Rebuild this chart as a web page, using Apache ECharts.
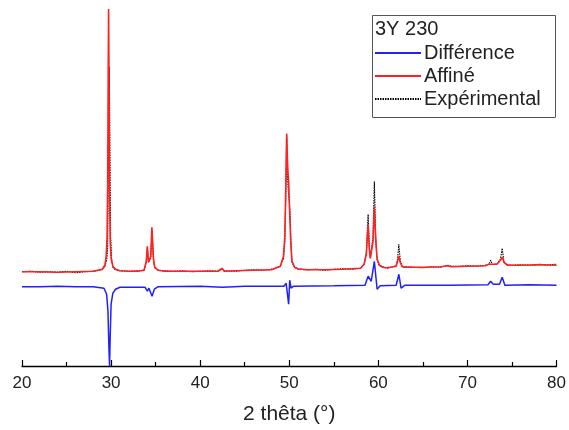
<!DOCTYPE html>
<html>
<head>
<meta charset="utf-8">
<script src="https://cdn.jsdelivr.net/npm/echarts@6/dist/echarts.min.js"></script>
<style>html,body{margin:0;padding:0;background:#fff}#c{width:569px;height:430px}</style>
</head>
<body>
<div id="c"></div>
<script>
// 2θ positions (°) and intensities (arbitrary units)
var calcX = [20,22,24,26,28,29.0,29.3,29.45,29.55,29.62,29.68,29.72,29.76,29.82,29.9,30.0,30.2,30.5,31,32,33,33.7,33.95,34.07,34.2,34.3,34.45,34.58,34.75,34.9,35.3,36,38,40,42,42.45,42.7,44,46,48,49.0,49.35,49.5,49.6,49.71,49.8,49.87,49.93,50.02,50.15,50.3,50.6,51,52,54,56,58,58.4,58.65,58.85,58.98,59.1,59.22,59.4,59.55,59.7,59.85,60.1,60.5,61,62,62.15,62.3,62.45,62.7,63,65,67,67.8,68.2,70,72,72.4,72.6,72.8,73.3,73.7,73.9,74.1,74.5,76,78,80];
var calcY = [94.5,94.5,94,94.5,95,97,101,110,130,180,300,358,300,180,125,108,100,97,95.5,95,95,96,105,120,104,103,110,139,108,99,96,95,95,95,95,98,95,95.5,96,96.5,100,110,130,175,233,205,192,185,160,128,105,99,97.5,96.5,96.5,97,98,102,112,142,118,108,107,125,160,128,108,101,99,98.5,100,105,110,104,99.5,99,99,99.5,100.5,99.5,100,100.5,102,104,102,102,106,109,104,101,101,101.5,101];
var obsX = [20,21,22,23,24,25,26,27,28,29.0,29.3,29.5,29.6,29.7,29.8,29.88,29.95,30.05,30.2,30.5,31,32,33,33.7,33.95,34.07,34.2,34.3,34.45,34.6,34.75,34.9,35.3,36,37,38,39,40,41,42,42.45,42.7,44,45,46,47,48,49.0,49.35,49.5,49.6,49.71,49.8,49.9,50.0,50.1,50.2,50.3,50.6,51,52,53,54,55,56,57,58,58.4,58.65,58.85,58.98,59.1,59.22,59.4,59.55,59.7,59.85,60.1,60.5,61,62,62.15,62.3,62.45,62.7,63,64,65,66,67,67.8,68.2,69,70,71,72,72.4,72.6,72.8,73.3,73.7,73.9,74.1,74.5,75,76,77,78,79,80];
var obsY = [94.5,95,94,94.5,94,95,93.5,94.5,95,96.5,100,106,115,200,300,205,130,108,99,96.5,95.5,95,95.5,96,104,118,104,102,108,135,106,98.5,96,95.5,95,95.5,94.5,95,95.5,95,97,95.5,95,96,96.5,96,97,100,108,125,165,230,190,175,166,150,120,104,99,97,96.5,97,96,97,97.5,97,98,102,114,152,120,108,108,130,185,128,107,101,99.5,98,100.5,107,122,106,99,99.5,99,98.5,99.5,99,101,100,100,100.5,100,101,102,106,102,102,107,118,104,101.5,101,101.5,101,102,101.5,102];
var diffX = [20,22,24,26,28,29.2,29.5,29.65,29.75,29.83,29.9,30.0,30.2,30.5,31,33.8,34.07,34.25,34.6,34.85,35.3,40,42.5,45,49.4,49.65,49.8,49.93,50.05,50.2,50.5,55,58.5,58.85,59.2,59.55,59.86,60.2,62.0,62.3,62.55,63,68,72.3,72.6,72.9,73.6,73.9,74.2,77,80];
var diffY = [79.5,79.5,80,79.5,79.5,78,72,55,20,0,30,62,73,77,79,79,75,78,70,77,79.5,80,79,80,80,83,84,62,86,78,80,80.5,81,90,85,105,77,80.5,81,92,78,81,81,81.5,85,82,82,89,81,81.5,81];
var xTicks = [20,30,40,50,60,70,80];

function zip(xs, ys){ return xs.map(function(x,i){ return [x, ys[i]]; }); }

var chart = echarts.init(document.getElementById('c'));
var font = '"Liberation Sans", Arial, sans-serif';
chart.setOption({
  animation: false,
  backgroundColor: '#fff',
  grid: {left: 22, right: 9, top: 7, bottom: 63},
  xAxis: {
    type: 'value', min: xTicks[0], max: xTicks[xTicks.length-1], interval: 10,
    axisLine: {show: true, onZero: false, lineStyle: {color: '#000', width: 1.3}},
    axisTick: {show: true, inside: true, length: 6, lineStyle: {color: '#000', width: 1.2}},
    minorTick: {show: true, splitNumber: 2, length: 4, lineStyle: {color: '#000', width: 1.2}},
    splitLine: {show: false},
    axisLabel: {color: '#222', fontSize: 17, fontFamily: font, margin: 9},
    name: '2 thêta (°)', nameLocation: 'middle', nameGap: 38,
    nameTextStyle: {color: '#222', fontSize: 21, fontFamily: font}
  },
  yAxis: {
    type: 'value', min: 0, max: 360, show: false
  },
  legend: {
    orient: 'vertical', left: 372, top: 43, itemWidth: 46, itemHeight: 12, itemGap: 3,
    padding: [0, 0, 0, 2],
    data: ['Différence', 'Affiné', 'Expérimental'],
    itemStyle: {opacity: 0},
    textStyle: {color: '#222', fontSize: 20, fontFamily: font, padding: [0, 0, 0, -2]}
  },
  graphic: [
    {type: 'rect', shape: {x: 372.5, y: 15.5, width: 183, height: 102},
     style: {fill: 'none', stroke: '#555', lineWidth: 1}, z: 10},
    {type: 'text', left: 375, top: 19,
     style: {text: '3Y 230', fill: '#222', font: '20px ' + font}, z: 10}
  ],
  series: [
    {name: 'Expérimental', type: 'line', data: zip(obsX, obsY), symbol: 'none',
     lineStyle: {color: '#000', width: 1.1, type: [1.5, 1]}, itemStyle: {color: '#000'}, z: 2},
    {name: 'Affiné', type: 'line', data: zip(calcX, calcY), symbol: 'none',
     lineStyle: {color: '#ff2020', width: 1.6}, itemStyle: {color: '#ff2020'}, z: 3},
    {name: 'Différence', type: 'line', data: zip(diffX, diffY), symbol: 'none',
     lineStyle: {color: '#2020ff', width: 1.5}, itemStyle: {color: '#2020ff'}, z: 3}
  ]
});
</script>
</body>
</html>
